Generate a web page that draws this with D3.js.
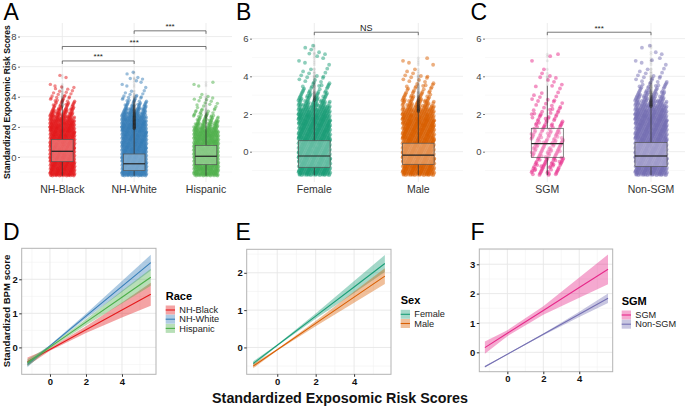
<!DOCTYPE html>
<html><head><meta charset="utf-8">
<script src="https://cdn.jsdelivr.net/npm/d3@7"></script>
<style>
body{margin:0;background:#fff}
svg{display:block}
text{font-family:"Liberation Sans",Arial,Helvetica,sans-serif}
</style>
</head><body>
<svg id="c" width="685" height="407"></svg>
<script>
// ---------------- DATA ----------------
const raceCats = ["NH-Black", "NH-White", "Hispanic"];
const raceColors = ["#E41A1C", "#377EB8", "#4DAF4A"];
const sexCats = ["Female", "Male"];
const sexColors = ["#1B9E77", "#D95F02"];
const sgmCats = ["SGM", "Non-SGM"];
const sgmColors = ["#E7298A", "#7570B3"];

// jittered points, counted per 0.25-wide bin starting at -1.25
const binStart = -1.25, binWidth = 0.25;
const raceCounts = [
  [60,60,60,60,60,60,60,60,60,60,60,60,60,55,50,40,32,24,16,12,8,5,4,5,1,0,2],
  [60,60,60,60,60,60,60,60,60,60,60,60,60,60,55,48,40,30,20,12,8,5,3,2,2,3,1,2],
  [50,50,50,50,50,50,50,50,50,50,50,50,40,30,22,15,10,7,5,4,4,2,0,1,2]
];
const sexCounts = [
  [70,70,70,70,70,70,70,70,70,70,70,70,70,55,42,30,22,15,10,7,5,4,3,2,2,3,2,2],
  [70,70,70,70,70,70,70,70,70,70,70,70,60,48,36,26,18,12,9,6,5,3,2,2,2]
];
const sgmCounts = [
  [14,14,16,16,16,16,16,15,14,13,12,10,9,7,6,5,4,3,3,2,3,2,1,0,1,2],
  [70,70,70,70,70,70,70,70,70,70,70,70,70,60,48,38,28,20,13,9,6,4,3,2,3,1,1,2]
];

// box statistics
const raceQ1 = [-0.31, -0.90, -0.51], raceMed = [0.38, -0.45, 0.05], raceQ3 = [1.17, 0.20, 0.77];
const raceWLo = [-1.25, -1.25, -1.25], raceWHi = [3.35, 1.85, 2.65];
const sexQ1 = [-0.83, -0.67], sexMed = [-0.23, -0.18], sexQ3 = [0.58, 0.45];
const sexWLo = [-1.25, -1.25], sexWHi = [2.7, 2.12];
const sgmQ1 = [-0.30, -0.78], sgmMed = [0.43, -0.23], sgmQ3 = [1.24, 0.48];
const sgmWLo = [-1.25, -1.25], sgmWHi = [3.5, 2.37];

// significance brackets
const raceCompA = ["NH-Black", "NH-Black", "NH-White"], raceCompB = ["NH-White", "Hispanic", "Hispanic"];
const raceCompY = [6.38, 7.34, 8.38], raceCompLabel = ["***", "***", "***"];
const sexCompA = ["Female"], sexCompB = ["Male"], sexCompY = [6.34], sexCompLabel = ["NS"];
const sgmCompA = ["SGM"], sgmCompB = ["Non-SGM"], sgmCompY = [6.34], sgmCompLabel = ["***"];

// regression fits (x, fit, lower, upper)
const fitX = [-1.25, 0, 2, 4, 5.6];
const raceFit = [[-0.42,-0.059,0.519,1.097,1.56],[-0.50,0.046,0.919,1.792,2.49],[-0.45,0.008,0.741,1.474,2.06]];
const raceLo  = [[-0.54,-0.10,0.42,0.88,1.22],[-0.58,0.03,0.85,1.63,2.26],[-0.55,-0.03,0.65,1.29,1.81]];
const raceHi  = [[-0.30,-0.02,0.62,1.32,1.90],[-0.42,0.07,0.99,1.95,2.72],[-0.35,0.05,0.83,1.66,2.31]];
const sexFit = [[-0.43,0.059,0.84,1.62,2.25],[-0.50,-0.06,0.644,1.348,1.91]];
const sexLo  = [[-0.49,0.04,0.77,1.46,2.02],[-0.56,-0.08,0.57,1.20,1.70]];
const sexHi  = [[-0.37,0.08,0.91,1.78,2.48],[-0.44,-0.04,0.71,1.50,2.12]];
const sgmFit = [[0.16,0.647,1.427,2.206,2.83],[-0.49,-0.065,0.615,1.296,1.84]];
const sgmLo  = [[-0.05,0.55,1.28,1.86,2.32],[-0.52,-0.075,0.585,1.206,1.68]];
const sgmHi  = [[0.37,0.75,1.57,2.55,3.33],[-0.46,-0.055,0.645,1.386,2.00]];

// ---------------- DRAW ----------------
const svg = d3.select("#c");
const FONT = '"Liberation Sans",Arial,Helvetica,sans-serif';
const frac = v => v - Math.floor(v);
const fmt = d3.format("d");

function letter(t, x, y) {
  svg.append("text").attr("x", x).attr("y", y).attr("font-size", 23).attr("fill", "#000").text(t);
}

function boxPanel(o) {
  const g = svg.append("g");
  const x = d3.scalePoint().domain(o.cats).range(o.catRange);
  const y = d3.scaleLinear().domain(o.yDomain).range([182, 23]);
  o.minorY.forEach(v => g.append("line").attr("x1", o.left).attr("x2", o.right)
    .attr("y1", y(v)).attr("y2", y(v)).attr("stroke", "#f3f3f3").attr("stroke-width", 0.6));
  o.yTicks.forEach(v => g.append("line").attr("x1", o.left).attr("x2", o.right)
    .attr("y1", y(v)).attr("y2", y(v)).attr("stroke", "#ebebeb").attr("stroke-width", 0.9));
  o.cats.forEach(c => g.append("line").attr("x1", x(c)).attr("x2", x(c))
    .attr("y1", 23).attr("y2", 182).attr("stroke", "#ebebeb").attr("stroke-width", 0.9));
  const ax = g.append("g").attr("transform", `translate(${o.left},0)`)
    .call(d3.axisLeft(y).tickValues(o.yTicks).tickFormat(fmt).tickSize(2).tickPadding(1.5));
  ax.select(".domain").remove();
  ax.selectAll("line").attr("stroke", "#777");
  ax.selectAll("text").attr("font-size", 9.5).attr("fill", "#444").attr("font-family", FONT);
  o.cats.forEach(c => g.append("text").attr("x", x(c)).attr("y", 193).attr("text-anchor", "middle")
    .attr("font-size", 10.5).attr("fill", "#333").text(c));

  const allPts = [];
  o.cats.forEach((c, i) => {
    const pts = [];
    o.counts[i].forEach((n, k) => {
      for (let j = 0; j < n; j++) {
        const s = j + k * 13;
        const u = frac(0.5 + s * 0.7548776662), v = frac(0.5 + s * 0.5698402910);
        pts.push({ dx: (u - 0.5) * 2 * o.jitter, v: binStart + (k + v) * binWidth });
      }
    });
    allPts.push(pts);
    g.append("g").selectAll("circle").data(pts).join("circle")
      .attr("cx", d => x(c) + d.dx).attr("cy", d => y(d.v)).attr("r", o.r)
      .attr("fill", o.colors[i]).attr("fill-opacity", 0.5);
  });
  o.cats.forEach((c, i) => {
    const cx = x(c), bw = o.boxW;
    g.append("line").attr("x1", cx).attr("x2", cx).attr("y1", y(o.q3[i])).attr("y2", y(o.wHi[i]))
      .attr("stroke", "#333").attr("stroke-width", 0.8);
    g.append("line").attr("x1", cx).attr("x2", cx).attr("y1", y(o.q1[i])).attr("y2", y(o.wLo[i]))
      .attr("stroke", "#333").attr("stroke-width", 0.8);
    g.append("rect").attr("x", cx - bw / 2).attr("width", bw).attr("y", y(o.q3[i]))
      .attr("height", y(o.q1[i]) - y(o.q3[i])).attr("fill", "#fff").attr("fill-opacity", 0.3)
      .attr("stroke", "#555").attr("stroke-width", 0.7);
    g.append("line").attr("x1", cx - bw / 2).attr("x2", cx + bw / 2).attr("y1", y(o.med[i])).attr("y2", y(o.med[i]))
      .attr("stroke", "#222").attr("stroke-width", 1.2);
    const outl = allPts[i].filter(d => d.v > o.wHi[i]);
    g.append("g").selectAll("circle").data(outl).join("circle")
      .attr("cx", cx).attr("cy", d => y(d.v)).attr("r", o.r * 0.8)
      .attr("fill", "#333").attr("fill-opacity", 0.09);
  });
  o.compY.forEach((v, i) => {
    const xa = x(o.compA[i]), xb = x(o.compB[i]), yy = y(v);
    g.append("path").attr("d", `M${xa},${yy + 3}V${yy}H${xb}V${yy + 3}`)
      .attr("fill", "none").attr("stroke", "#555").attr("stroke-width", 0.8);
    g.append("text").attr("x", (xa + xb) / 2).attr("y", yy - 1.5).attr("text-anchor", "middle")
      .attr("font-size", o.compLabel[i] === "NS" ? 9 : 8).attr("fill", "#222").text(o.compLabel[i]);
  });
}

function linePanel(o) {
  const g = svg.append("g");
  const x = d3.scaleLinear().domain(o.xDomain).range([o.left, o.right]);
  const y = d3.scaleLinear().domain(o.yDomain).range([o.bottom, o.top]);
  const id = "clip" + Math.round(o.left);
  svg.append("clipPath").attr("id", id).append("rect").attr("x", o.left).attr("y", o.top)
    .attr("width", o.right - o.left).attr("height", o.bottom - o.top);
  o.minorX.forEach(v => g.append("line").attr("x1", x(v)).attr("x2", x(v)).attr("y1", o.top).attr("y2", o.bottom)
    .attr("stroke", "#f2f2f2").attr("stroke-width", 0.6));
  o.minorY.forEach(v => g.append("line").attr("y1", y(v)).attr("y2", y(v)).attr("x1", o.left).attr("x2", o.right)
    .attr("stroke", "#f2f2f2").attr("stroke-width", 0.6));
  o.xTicks.forEach(v => g.append("line").attr("x1", x(v)).attr("x2", x(v)).attr("y1", o.top).attr("y2", o.bottom)
    .attr("stroke", "#e6e6e6").attr("stroke-width", 0.9));
  o.yTicks.forEach(v => g.append("line").attr("y1", y(v)).attr("y2", y(v)).attr("x1", o.left).attr("x2", o.right)
    .attr("stroke", "#e6e6e6").attr("stroke-width", 0.9));
  const pg = g.append("g").attr("clip-path", `url(#${id})`);
  o.cats.forEach((c, i) => {
    const rows = o.fx.map((xv, k) => ({ x: xv, f: o.fit[i][k], lo: o.lo[i][k], hi: o.hi[i][k] }));
    pg.append("path").datum(rows)
      .attr("d", d3.area().x(d => x(d.x)).y0(d => y(d.lo)).y1(d => y(d.hi)))
      .attr("fill", o.colors[i]).attr("fill-opacity", 0.4);
    pg.append("path").datum(rows)
      .attr("d", d3.line().x(d => x(d.x)).y(d => y(d.f)))
      .attr("fill", "none").attr("stroke", o.colors[i]).attr("stroke-width", 1.1);
  });
  g.append("rect").attr("x", o.left).attr("y", o.top).attr("width", o.right - o.left)
    .attr("height", o.bottom - o.top).attr("fill", "none").attr("stroke", "#b3b3b3").attr("stroke-width", 1);
  const ax = g.append("g").attr("transform", `translate(0,${o.bottom})`)
    .call(d3.axisBottom(x).tickValues(o.xTicks).tickFormat(fmt).tickSize(2.5).tickPadding(1.5));
  ax.select(".domain").remove();
  ax.selectAll("line").attr("stroke", "#333");
  ax.selectAll("text").attr("font-size", 9.5).attr("font-weight", "bold").attr("fill", "#111").attr("font-family", FONT);
  const ay = g.append("g").attr("transform", `translate(${o.left},0)`)
    .call(d3.axisLeft(y).tickValues(o.yTicks).tickFormat(fmt).tickSize(2.5).tickPadding(1.5));
  ay.select(".domain").remove();
  ay.selectAll("line").attr("stroke", "#333");
  ay.selectAll("text").attr("font-size", 9.5).attr("font-weight", "bold").attr("fill", "#111").attr("font-family", FONT);
  // legend
  const lg = svg.append("g").attr("transform", `translate(${o.legX},${o.legY})`);
  lg.append("text").attr("x", 0).attr("y", 0).attr("font-size", 11).attr("font-weight", "bold").text(o.legTitle);
  o.cats.forEach((c, i) => {
    const yy = 10.5 + i * 9.2;
    lg.append("rect").attr("x", 0).attr("y", yy - 4.5).attr("width", 9.3).attr("height", 9)
      .attr("fill", o.colors[i]).attr("fill-opacity", 0.4);
    lg.append("line").attr("x1", 0).attr("x2", 9.3).attr("y1", yy).attr("y2", yy)
      .attr("stroke", o.colors[i]).attr("stroke-width", 1.1);
    lg.append("text").attr("x", 13.6).attr("y", yy + 3.2).attr("font-size", 9.2).attr("fill", "#222").text(c);
  });
}

// top row
boxPanel({ cats: raceCats, colors: raceColors, counts: raceCounts, catRange: [62.3, 206],
  left: 20, right: 232, yDomain: [-1.66, 8.9], yTicks: [0, 2, 4, 6, 8], minorY: [-1, 1, 3, 5, 7],
  jitter: 12.5, r: 1.7, boxW: 21.6, q1: raceQ1, med: raceMed, q3: raceQ3, wLo: raceWLo, wHi: raceWHi,
  compA: raceCompA, compB: raceCompB, compY: raceCompY, compLabel: raceCompLabel });
boxPanel({ cats: sexCats, colors: sexColors, counts: sexCounts, catRange: [314.3, 418.3],
  left: 252, right: 463, yDomain: [-1.61, 6.83], yTicks: [0, 2, 4, 6], minorY: [-1, 1, 3, 5],
  jitter: 16, r: 1.9, boxW: 31.5, q1: sexQ1, med: sexMed, q3: sexQ3, wLo: sexWLo, wHi: sexWHi,
  compA: sexCompA, compB: sexCompB, compY: sexCompY, compLabel: sexCompLabel });
boxPanel({ cats: sgmCats, colors: sgmColors, counts: sgmCounts, catRange: [547.3, 651],
  left: 485, right: 685, yDomain: [-1.61, 6.83], yTicks: [0, 2, 4, 6], minorY: [-1, 1, 3, 5],
  jitter: 16, r: 1.9, boxW: 32, q1: sgmQ1, med: sgmMed, q3: sgmQ3, wLo: sgmWLo, wHi: sgmWHi,
  compA: sgmCompA, compB: sgmCompB, compY: sgmCompY, compLabel: sgmCompLabel });

// bottom row
linePanel({ cats: raceCats, colors: raceColors, fx: fitX, fit: raceFit, lo: raceLo, hi: raceHi,
  left: 21.7, right: 156, top: 248.3, bottom: 374.3, xDomain: [-1.57, 5.89], yDomain: [-0.79, 2.91],
  xTicks: [0, 2, 4], minorX: [-1, 1, 3, 5], yTicks: [0, 1, 2], minorY: [-0.5, 0.5, 1.5, 2.5],
  legX: 165.7, legY: 299.5, legTitle: "Race" });
linePanel({ cats: sexCats, colors: sexColors, fx: fitX, fit: sexFit, lo: sexLo, hi: sexHi,
  left: 246.7, right: 391, top: 249.3, bottom: 374.3, xDomain: [-1.59, 5.92], yDomain: [-0.72, 2.63],
  xTicks: [0, 2, 4], minorX: [-1, 1, 3, 5], yTicks: [0, 1, 2], minorY: [-0.5, 0.5, 1.5, 2.5],
  legX: 400.7, legY: 303.8, legTitle: "Sex" });
linePanel({ cats: sgmCats, colors: sgmColors, fx: fitX, fit: sgmFit, lo: sgmLo, hi: sgmHi,
  left: 479.3, right: 612.7, top: 249, bottom: 371.7, xDomain: [-1.56, 5.86], yDomain: [-0.66, 3.52],
  xTicks: [0, 2, 4], minorX: [-1, 1, 3, 5], yTicks: [0, 1, 2, 3], minorY: [-0.5, 0.5, 1.5, 2.5, 3.5],
  legX: 621.7, legY: 304.5, legTitle: "SGM" });

// titles
svg.append("text").attr("transform", "translate(9.5,102) rotate(-90)").attr("text-anchor", "middle")
  .attr("font-size", 8.6).attr("font-weight", "bold").attr("fill", "#111").text("Standardized Exposomic Risk Scores");
svg.append("text").attr("transform", "translate(9.8,311) rotate(-90)").attr("text-anchor", "middle")
  .attr("font-size", 9.6).attr("font-weight", "bold").attr("fill", "#111").text("Standardized BPM score");
svg.append("text").attr("x", 340).attr("y", 402.5).attr("text-anchor", "middle")
  .attr("font-size", 14.3).attr("font-weight", "bold").attr("fill", "#111").text("Standardized Exposomic Risk Scores");

letter("A", 3.5, 20); letter("B", 236, 19.5); letter("C", 470.5, 20);
letter("D", 3, 240); letter("E", 235.5, 240); letter("F", 470.5, 240);
</script>
</body></html>
